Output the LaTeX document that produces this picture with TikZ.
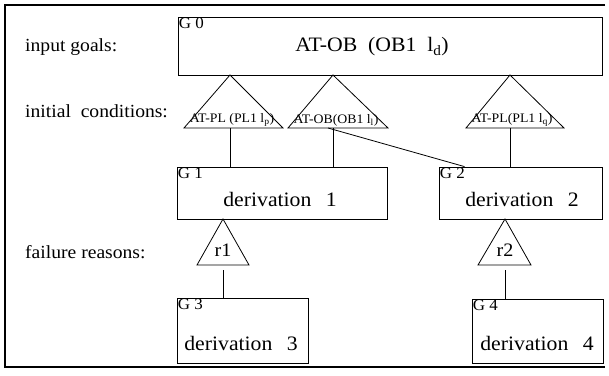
\documentclass[tikz,border=0pt]{standalone}
\usepackage{fontspec}
\setmainfont{Liberation Serif}[FakeStretch=1.06]
\begin{document}
\begin{tikzpicture}[x=1pt,y=-1pt,
  gbox/.style={draw,line width=0.8pt,inner sep=0pt},
  conn/.style={line width=0.8pt},
  tri/.style={draw,line width=0.8pt,line join=miter},
  big/.style={font=\fontsize{20.5}{22}\selectfont,inner sep=0pt},
  side/.style={font=\fontsize{18.5}{20}\selectfont,inner sep=0pt,anchor=west},
  small/.style={font=\fontsize{13}{14}\selectfont,inner sep=0pt},
  glab/.style={font=\fontsize{16}{17}\selectfont,inner sep=1pt,anchor=north west},
  rlab/.style={font=\fontsize{19}{20}\selectfont,inner sep=0pt}]
\useasboundingbox (0,0) rectangle (609,375);
% frame
\draw[line width=2pt] (605,5) -- (5,5) -- (5,367) -- (605,367);
% side labels
\node[side] (lin) at (25,47) {input goals:};
\node[side] (lic) at (25,111) {initial\ \ conditions:};
\node[side] (lfr) at (25,252) {failure reasons:};
% boxes
\node[gbox,minimum width=424pt,minimum height=58pt] (G0) at (390,46) {};
\node[gbox,minimum width=210pt,minimum height=52pt] (G1) at (282,193) {};
\node[gbox,minimum width=163pt,minimum height=52pt] (G2) at (520.5,193) {};
\node[gbox,minimum width=131pt,minimum height=65pt] (G3) at (242.5,330.5) {};
\node[gbox,minimum width=131pt,minimum height=64pt] (G4) at (537.5,331) {};
\node[glab] (g0t) at (G0.north west) {G 0};
\node[glab] (g1t) at (G1.north west) {G 1};
\node[glab] (g2t) at (G2.north west) {G 2};
\node[glab] (g3t) at (G3.north west) {G 3};
\node[glab] (g4t) at (G4.north west) {G 4};
\node[big] (g0x) at (372,47) {AT-OB\ \ (OB1\ \ l\textsubscript{d})};
\node[big] (g1x) at (280,199) {derivation\hspace{0.7em}1};
\node[big] (g2x) at (522,199) {derivation\hspace{0.7em}2};
\node[big] (g3x) at (241,343) {derivation\hspace{0.7em}3};
\node[big] (g4x) at (537,343) {derivation\hspace{0.7em}4};
% triangle corners
\coordinate (t1a) at (230,75); \coordinate (t1l) at (184,128); \coordinate (t1r) at (283,128); \coordinate (t1b) at (230,128);
\coordinate (t2a) at (333,75); \coordinate (t2l) at (288,128); \coordinate (t2r) at (388,128); \coordinate (t2b) at (333,128); \coordinate (t2d) at (328,128);
\coordinate (t3a) at (510,75); \coordinate (t3l) at (466,128); \coordinate (t3r) at (564,128); \coordinate (t3b) at (510,128);
\coordinate (r1a) at (223,219); \coordinate (r1l) at (197,265); \coordinate (r1r) at (249,265); \coordinate (r1b) at (223,270);
\coordinate (r2a) at (505,219); \coordinate (r2l) at (478,265); \coordinate (r2r) at (531,265); \coordinate (r2b) at (505,270);
\draw[tri] (t1l) -- (t1a) -- (t1r) -- cycle;
\draw[tri] (t2l) -- (t2a) -- (t2r) -- cycle;
\draw[tri] (t3l) -- (t3a) -- (t3r) -- cycle;
\draw[tri] (r1l) -- (r1a) -- (r1r) -- cycle;
\draw[tri] (r2l) -- (r2a) -- (r2r) -- cycle;
\node[small] (t1x) at (232,120) {AT-PL (PL1 l\textsubscript{p})};
\node[small] (t2x) at (336,120) {AT-OB(OB1 l\textsubscript{l})};
\node[small] (t3x) at (512,120) {AT-PL(PL1 l\textsubscript{q})};
\node[rlab] (r1x) at (223,250) {r1};
\node[rlab] (r2x) at (505,250) {r2};
% connectors
\draw[conn] (t1b) -- (G1.north -| t1b);
\draw[conn] (t2b) -- (G1.north -| t2b);
\draw[conn] (t2d) -- ([xshift=-56pt]G2.north);
\draw[conn] (t3b) -- (G2.north -| t3b);
\draw[conn] (r1b) -- (G3.north -| r1b);
\draw[conn] (r2b) -- (G4.north -| r2b);
\end{tikzpicture}
\end{document}
